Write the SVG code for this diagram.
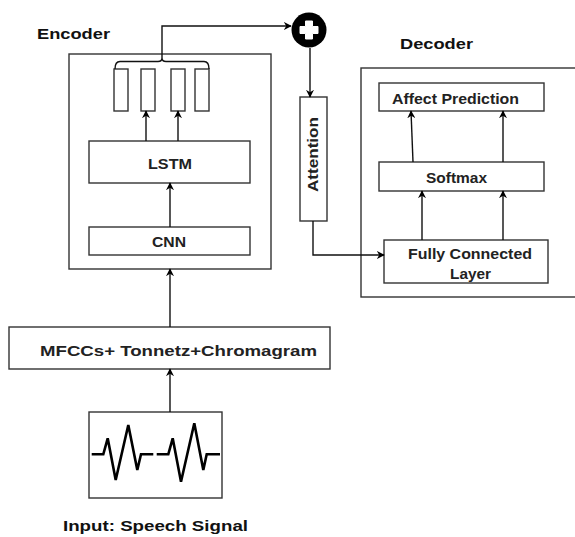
<svg xmlns="http://www.w3.org/2000/svg" width="575" height="537" viewBox="0 0 575 537">
<defs>
<marker id="ah" viewBox="0 0 10 10" refX="9" refY="5" markerWidth="8" markerHeight="8" orient="auto" markerUnits="userSpaceOnUse">
<path d="M0,0 L10,5 L0,10 L3,5 z" fill="#000"/>
</marker>
<style>
.box{fill:#fff;stroke:#333;stroke-width:1.4}
.lbl{font-family:"Liberation Sans",Arial,sans-serif;font-weight:bold;font-size:15px;fill:#222;text-anchor:middle}
.ttl{font-family:"Liberation Sans",Arial,sans-serif;font-weight:bold;font-size:15px;fill:#111;text-anchor:middle}
.con{fill:none;stroke:#111;stroke-width:1.4;marker-end:url(#ah)}
.ln{fill:none;stroke:#111;stroke-width:1.4}
</style>
</defs>
<rect width="575" height="537" fill="#fff"/>

<g id="encoder">
<rect class="box" x="69" y="54" width="202" height="215"/>
<text class="ttl" x="73.5" y="38.5" textLength="73" lengthAdjust="spacingAndGlyphs">Encoder</text>
</g>
<g id="states">
<rect class="box" x="114" y="69" width="14" height="42"/>
<rect class="box" x="141" y="69" width="14" height="42"/>
<rect class="box" x="171" y="69" width="14" height="42"/>
<rect class="box" x="195" y="69" width="14" height="42"/>
<path class="ln" d="M115,69 Q115,61.5 120,61.5 H158 Q162,61.5 162,58 Q162,61.5 166,61.5 H204 Q209,61.5 209,69"/>
</g>
<g id="lstm">
<rect class="box" x="89" y="141" width="161" height="42"/>
<text class="lbl" x="170" y="168.5" textLength="44" lengthAdjust="spacingAndGlyphs">LSTM</text>
</g>
<g id="cnn">
<rect class="box" x="89" y="227" width="161" height="28"/>
<text class="lbl" x="169" y="246.5" textLength="34" lengthAdjust="spacingAndGlyphs">CNN</text>
</g>
<g id="features">
<rect class="box" x="9" y="327" width="321" height="42"/>
<text class="lbl" x="178.5" y="355.5" textLength="277" lengthAdjust="spacingAndGlyphs">MFCCs+ Tonnetz+Chromagram</text>
</g>
<g id="signal">
<rect class="box" x="89" y="412" width="133" height="86"/>
<polyline fill="none" stroke="#000" stroke-width="2.6" stroke-linejoin="miter" points="91.7,454.3 103.3,454.3 107.7,438.3 115.7,480 128.3,425 137.3,470 141,454.3 153.3,454.3"/>
<polyline fill="none" stroke="#000" stroke-width="2.6" stroke-linejoin="miter" points="156.7,454.3 168.3,454.3 172.7,438.3 181,481.7 194.3,423.3 203.3,470 206.7,454.3 220,454.3"/>
<text class="ttl" x="155.5" y="530.5" textLength="185" lengthAdjust="spacingAndGlyphs">Input: Speech Signal</text>
</g>
<g id="sum">
<circle cx="309" cy="30" r="17.5" fill="#000"/>
<path d="M305.5,21 H312.5 V26.5 H318 V33.5 H312.5 V39 H305.5 V33.5 H300 V26.5 H305.5 z" fill="#fff" stroke="#fff" stroke-width="1" stroke-linejoin="round"/>
</g>
<g id="attention">
<rect class="box" x="300" y="97" width="27" height="124"/>
<text class="lbl" transform="translate(318,154.5) rotate(-90)" x="0" y="0" textLength="75" lengthAdjust="spacingAndGlyphs">Attention</text>
</g>
<g id="decoder">
<rect class="box" x="361" y="68" width="220" height="229"/>
<text class="ttl" x="436.5" y="48.5" textLength="73" lengthAdjust="spacingAndGlyphs">Decoder</text>
</g>
<g id="affect">
<rect class="box" x="379" y="83" width="165" height="28"/>
<text class="lbl" x="455.5" y="103.5" textLength="127" lengthAdjust="spacingAndGlyphs">Affect Prediction</text>
</g>
<g id="softmax">
<rect class="box" x="379" y="162" width="165" height="29"/>
<text class="lbl" x="456.5" y="182.5" textLength="61" lengthAdjust="spacingAndGlyphs">Softmax</text>
</g>
<g id="fc">
<rect class="box" x="384" y="240" width="164" height="43"/>
<text class="lbl" x="470" y="258.5" textLength="124" lengthAdjust="spacingAndGlyphs">Fully Connected</text>
<text class="lbl" x="470.5" y="278.5" textLength="41" lengthAdjust="spacingAndGlyphs">Layer</text>
</g>

<g id="connectors">
<path class="con" d="M162,58 V26 H291"/>
<path class="con" d="M310,48 V97"/>
<path class="con" d="M313,221 V255 H384"/>
<path class="con" d="M170,227 V183"/>
<path class="con" d="M146,141 V111"/>
<path class="con" d="M178,141 V111"/>
<path class="con" d="M170,327 V269"/>
<path class="con" d="M170,412 V369"/>
<path class="con" d="M413,162 L411,111"/>
<path class="con" d="M503,162 V111"/>
<path class="con" d="M422,240 V191"/>
<path class="con" d="M503,240 V191"/>
</g>
</svg>
